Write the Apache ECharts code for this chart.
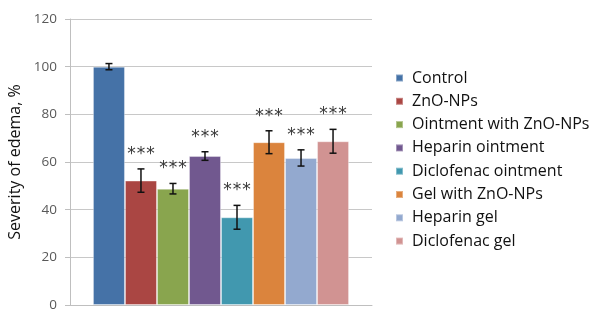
<!DOCTYPE html>
<html><head><meta charset="utf-8">
<script src="https://cdn.jsdelivr.net/npm/echarts@6/dist/echarts.min.js"></script>
<style>html,body{margin:0;padding:0;background:#fff}#c{width:595px;height:309px}</style>
</head><body><div id="c"></div>
<script>
var groups = ['Control','ZnO-NPs','Ointment with ZnO-NPs','Heparin ointment','Diclofenac ointment','Gel with ZnO-NPs','Heparin gel','Diclofenac gel'];
var values = [100, 52.2, 48.8, 62.5, 36.8, 68.3, 61.7, 68.7];
var errors = [1.3, 4.9, 2.2, 1.8, 5.0, 4.8, 3.4, 5.0];
var marks = ['', '***', '***', '***', '***', '***', '***', '***'];
var yTicks = [0, 20, 40, 60, 80, 100, 120];
var colors = ['#4572A7','#AA4643','#89A54E','#71588F','#4198AF','#DB843D','#93A9CF','#D19392'];

var catGap = 0.152;
var font = '"Open Sans", sans-serif';
var series = groups.map(function(g, i){
  return {name: g, type: 'bar', data: [values[i]], barGap: '0%', barCategoryGap: (catGap*100)+'%',
    itemStyle: {color: colors[i], borderColor: 'rgba(255,255,255,0.35)', borderWidth: 1}, z: 2};
});
series.push({
  type: 'custom', name: 'err', z: 5,
  data: groups.map(function(g, i){ return [0, values[i], errors[i], i]; }),
  renderItem: function(params, api){
    var i = api.value(3);
    var v = api.value(1), e = api.value(2);
    var center = api.coord([0, v]);
    var bw = api.size([1, 0])[0] * (1 - catGap) / groups.length;
    var x = center[0] + (i - (groups.length - 1) / 2) * bw;
    var top = api.coord([0, v + e])[1];
    var bot = api.coord([0, v - e])[1];
    var cap = 3.5;
    var st = {stroke: '#111', lineWidth: 1.5};
    var kids = [
      {type: 'line', shape: {x1: x, y1: top, x2: x, y2: bot}, style: st},
      {type: 'line', shape: {x1: x - cap, y1: top, x2: x + cap, y2: top}, style: st},
      {type: 'line', shape: {x1: x - cap, y1: bot, x2: x + cap, y2: bot}, style: st}
    ];
    var m = marks[i];
    for (var k = 0; k < m.length; k++) {
      kids.push({type: 'text', style: {text: m.charAt(k), x: x + (k - (m.length - 1) / 2) * 9.5, y: top - 6,
        align: 'center', verticalAlign: 'bottom',
        font: '17px "DejaVu Sans", sans-serif', fill: '#383838'}});
    }
    return {type: 'group', children: kids};
  }
});

var chart = echarts.init(document.getElementById('c'), null, {renderer: 'canvas'});
chart.setOption({
  animation: false,
  grid: {left: 70, right: 223, top: 19, bottom: 4, outerBoundsMode: 'none', containLabel: false},
  legend: {
    data: groups, orient: 'vertical', left: 390, top: 65,
    itemWidth: 7, itemHeight: 7, itemGap: 7.3, icon: 'rect',
    textStyle: {fontFamily: font, fontSize: 16, color: '#111', lineHeight: 16, padding: [0,0,0,4]}
  },
  xAxis: {type: 'category', data: [''], axisTick: {show: false}, axisLabel: {show: false},
    axisLine: {lineStyle: {color: '#bfbfbf'}}},
  yAxis: {type: 'value', min: yTicks[0], max: yTicks[yTicks.length-1], interval: 20,
    name: 'Severity of edema, %', nameLocation: 'middle', nameGap: 44,
    nameTextStyle: {fontFamily: font, fontSize: 16, color: '#111'},
    axisLine: {show: true, lineStyle: {color: '#bfbfbf'}},
    axisTick: {show: true, length: 5, lineStyle: {color: '#bfbfbf'}},
    axisLabel: {fontFamily: font, fontSize: 13.5, color: '#595959', margin: 13},
    splitLine: {lineStyle: {color: '#c8c8c8'}}},
  series: series
});
</script></body></html>
